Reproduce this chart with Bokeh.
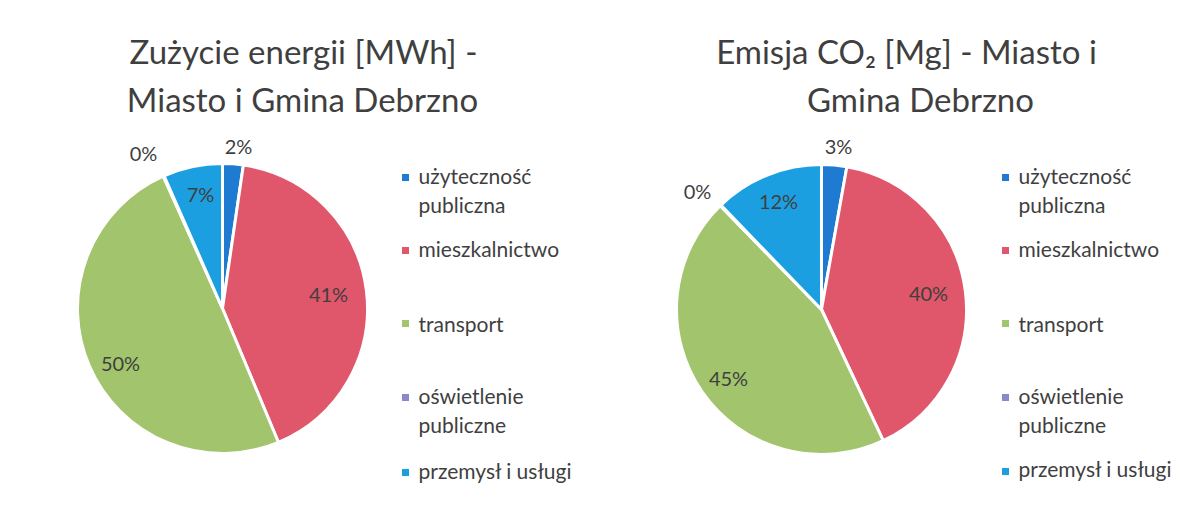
import math
from bokeh.plotting import figure
from bokeh.models import Range1d, ColumnDataSource
from bokeh.core.properties import value
from bokeh.embed import file_html
from bokeh.resources import INLINE

# ---- data ----
categories = ["użyteczność publiczna", "mieszkalnictwo", "transport",
              "oświetlenie publiczne", "przemysł i usługi"]
energy_share = [2.3, 41.4, 49.6, 0.1, 6.6]      # Zużycie energii [MWh], %
co2_share = [2.8, 40.2, 44.7, 0.1, 12.2]        # Emisja CO2 [Mg], %
colors = ["#1f7ad2", "#e0566a", "#a2c46c", "#8c88cc", "#1c9fe0"]
legend_lines = [["użyteczność", "publiczna"], ["mieszkalnictwo"], ["transport"],
                ["oświetlenie", "publiczne"], ["przemysł i usługi"]]
titles = [["Zużycie energii [MWh] -", "Miasto i Gmina Debrzno"],
          ["Emisja CO₂ [Mg] - Miasto i", "Gmina Debrzno"]]

FONT = "Lato"
TXT = "#3f3f3f"
H = 523  # page height for coordinate conversion (y_data = H - page_y)

p = figure(width=1184, height=507, output_backend="svg", toolbar_location=None,
           x_range=Range1d(0, 1184), y_range=Range1d(16, 523),
           min_border=0, outline_line_color=None)
p.axis.visible = False
p.grid.visible = False
p.background_fill_color = "white"


def Y(py):
    return H - py


def draw_pie(shares, cx, cy, r, label_pos, title, tx, ty_list, legend_x, legend_ys, marker_ys):
    total = sum(shares)
    starts, ends = [], []
    cum = 0.0
    for s in shares:
        a0 = math.pi / 2 - 2 * math.pi * cum / total
        cum += s
        a1 = math.pi / 2 - 2 * math.pi * cum / total
        starts.append(a1)
        ends.append(a0)
    src = ColumnDataSource(dict(x=[cx] * len(shares), y=[Y(cy)] * len(shares),
                                start=starts, end=ends, color=colors))
    p.wedge(x="x", y="y", radius=r, start_angle="start", end_angle="end",
            fill_color="color", line_color="white", line_width=3, source=src)
    # percent labels
    labs = [f"{round(100 * s / total)}%" for s in shares]
    lx = [pos[0] for pos in label_pos]
    ly = [Y(pos[1]) for pos in label_pos]
    p.text(x=lx, y=ly, text=labs, text_align="center", text_baseline="middle",
           text_font=value(FONT), text_font_size="20px", text_color=TXT)
    # title
    for line, (x, y) in zip(title, zip(tx, ty_list)):
        p.text(x=[x], y=[Y(y)], text=[line], text_align="center", text_baseline="middle",
               text_font=value(FONT), text_font_size="33px", text_color=TXT)
    # legend
    p.scatter(x=[legend_x - 13] * len(colors), y=[Y(m) for m in marker_ys], marker="square",
              size=7, fill_color=colors, line_color=None)
    xs, ys, ts = [], [], []
    for lines, ly0 in zip(legend_lines, legend_ys):
        for k, t in enumerate(lines):
            xs.append(legend_x)
            ys.append(Y(ly0 + 29 * k))
            ts.append(t)
    p.text(x=xs, y=ys, text=ts, text_align="left", text_baseline="middle",
           text_font=value(FONT), text_font_size="21px", text_color=TXT)


draw_pie(energy_share, 222, 308, 145,
         [(238, 145), (328, 293), (120, 362), (143, 152), (200, 193)],
         titles[0], [303, 302], [50, 98],
         418, [175, 248, 323, 395, 470], [177, 250, 323, 397, 472])

draw_pie(co2_share, 821, 309, 145,
         [(838, 145), (928, 292), (728, 377), (697, 190), (778, 200)],
         titles[1], [906, 920], [50, 98],
         1018, [175, 248, 323, 395, 468], [177, 250, 323, 397, 471])

open("out.html", "w").write(file_html(p, INLINE))
